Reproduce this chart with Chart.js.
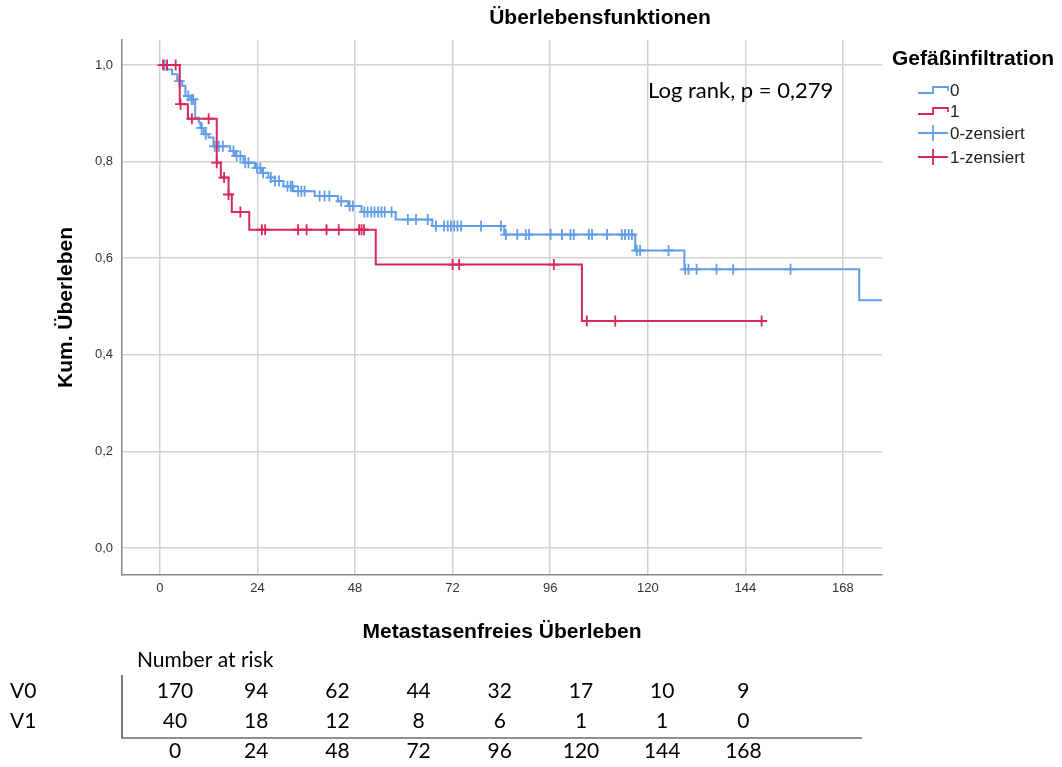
<!DOCTYPE html>
<html>
<head>
<meta charset="utf-8">
<script src="https://cdn.jsdelivr.net/npm/chart.js@4.4.1/dist/chart.umd.min.js"></script>
<style>
  body { margin: 0; background: #fff; }
  canvas { display: block; }
</style>
</head>
<body>
<canvas id="km" width="1062" height="767"></canvas>
<script>
// step points of each Kaplan-Meier curve (month of event, survival after it)
var blueTimes = [0, 1.8, 3.0, 4.3, 5.5, 6.3, 7.5, 8.7, 9.6, 10.0, 10.8, 12.0, 13.2, 17.3, 18.5, 20.6, 23.4, 25.1, 26.7, 28.3, 30.4, 32.8, 38.1, 43.8, 46.3, 49.6, 58.0, 67.0, 84.7, 116.9, 129.0, 172.0, 177.6];
var blueSurv = [1, 0.991, 0.981, 0.967, 0.957, 0.936, 0.929, 0.891, 0.881, 0.870, 0.857, 0.850, 0.832, 0.822, 0.812, 0.798, 0.787, 0.777, 0.767, 0.760, 0.749, 0.739, 0.729, 0.718, 0.708, 0.696, 0.680, 0.667, 0.649, 0.616, 0.577, 0.513, 0.513];
var redTimes = [0, 4.9, 6.9, 14.0, 15.0, 16.9, 17.7, 22.0, 53.1, 103.8, 148];
var redSurv = [1, 0.919, 0.889, 0.798, 0.767, 0.732, 0.696, 0.659, 0.587, 0.470, 0.470];

// censored cases (months)
var blueCensored = [1.2, 4.8, 7.0, 7.8, 8.2, 10.3, 11.3, 13.5, 14.5, 15.5, 18.1, 18.9, 19.8, 21.0, 21.8, 23.9, 24.7, 25.4, 27.3, 28.3, 29.3, 31.4, 32.2, 32.6, 34.0, 34.8, 35.6, 39.3, 40.5, 41.7, 44.6, 46.7, 47.5, 50.3, 51.1, 52.0, 52.8, 53.7, 54.5, 55.3, 57.0, 61.0, 63.0, 65.9, 67.9, 69.9, 70.8, 71.6, 72.4, 73.2, 74.1, 79.0, 83.9, 85.1, 87.9, 90.0, 90.8, 96.1, 98.9, 101.0, 101.8, 105.5, 106.3, 110.0, 113.6, 114.4, 115.3, 116.1, 117.3, 118.1, 125.1, 129.2, 130.0, 132.0, 136.9, 141.0, 155.1];
var redCensored = [0.8, 1.8, 3.9, 5.1, 7.9, 12.0, 14.0, 15.8, 16.9, 19.8, 25.1, 25.9, 34.0, 36.1, 41.0, 44.0, 49.0, 49.6, 50.2, 72.0, 73.6, 96.9, 105.0, 112.0, 148];

var xTicks = [0, 24, 48, 72, 96, 120, 144, 168];
var yTicks = [0, 0.2, 0.4, 0.6, 0.8, 1.0];

// number at risk table
var riskTimes = [0, 24, 48, 72, 96, 120, 144, 168];
var riskV0 = [170, 94, 62, 44, 32, 17, 10, 9];
var riskV1 = [40, 18, 12, 8, 6, 1, 1, 0];

var blueColor = '#629de8';
var redColor = '#d8285a';

function survAt(times, surv, t) {
  var s = surv[0];
  for (var i = 0; i < times.length; i++) {
    if (times[i] <= t) s = surv[i];
  }
  return s;
}

function steps(times, surv) {
  return times.map(function(t, i) { return {x: t, y: surv[i]}; });
}

function marks(cens, times, surv) {
  return cens.map(function(t) { return {x: t, y: survAt(times, surv, t)}; });
}

var textPlugin = {
  id: 'texts',
  afterDraw: function(chart) {
    var ctx = chart.ctx;
    var area = chart.chartArea;
    ctx.save();
    ctx.fillStyle = '#000';
    ctx.textBaseline = 'middle';

    // title
    ctx.font = 'bold 21px "Liberation Sans", Arial, sans-serif';
    ctx.textAlign = 'center';
    ctx.fillText('Überlebensfunktionen', 600, 18);

    // axis titles
    ctx.fillText('Metastasenfreies Überleben', (area.left + area.right) / 2, 632);
    ctx.save();
    ctx.translate(66, (area.top + area.bottom) / 2);
    ctx.rotate(-Math.PI / 2);
    ctx.fillText('Kum. Überleben', 0, 0);
    ctx.restore();

    // log rank
    ctx.font = '22px Lato, "Open Sans", sans-serif';
    ctx.textAlign = 'left';
    ctx.fillText('Log rank, p = 0,279', 648, 91);

    // legend
    ctx.font = 'bold 21px "Liberation Sans", Arial, sans-serif';
    ctx.fillText('Gefäßinfiltration', 892, 59);
    ctx.font = '17px "Liberation Sans", Arial, sans-serif';
    ctx.fillStyle = '#222';
    var items = [
      {label: '0', color: blueColor, y: 91, kind: 'step'},
      {label: '1', color: redColor, y: 112, kind: 'step'},
      {label: '0-zensiert', color: blueColor, y: 134, kind: 'cross'},
      {label: '1-zensiert', color: redColor, y: 158, kind: 'cross'}
    ];
    items.forEach(function(it) {
      ctx.strokeStyle = it.color;
      ctx.lineWidth = 1.8;
      ctx.beginPath();
      if (it.kind === 'step') {
        ctx.moveTo(918, it.y + 2);
        ctx.lineTo(933, it.y + 2);
        ctx.lineTo(933, it.y - 4);
        ctx.lineTo(948, it.y - 4);
        ctx.lineTo(948, it.y);
      } else {
        ctx.moveTo(918, it.y - 1);
        ctx.lineTo(948, it.y - 1);
        ctx.moveTo(933, it.y - 9);
        ctx.lineTo(933, it.y + 7);
      }
      ctx.stroke();
      ctx.fillText(it.label, 950, it.y);
    });

    // number at risk
    ctx.fillStyle = '#000';
    ctx.font = '21px Lato, "Open Sans", sans-serif';
    ctx.textAlign = 'left';
    ctx.fillText('Number at risk', 137, 660);
    ctx.fillText('V0', 10, 691);
    ctx.fillText('V1', 10, 721);
    ctx.textAlign = 'center';
    riskTimes.forEach(function(t, i) {
      var cx = 175 + i * 81.2;
      ctx.fillText(String(riskV0[i]), cx, 691);
      ctx.fillText(String(riskV1[i]), cx, 721);
      ctx.fillText(String(t), cx, 751);
    });
    ctx.strokeStyle = '#222';
    ctx.lineWidth = 1.2;
    ctx.beginPath();
    ctx.moveTo(122, 675);
    ctx.lineTo(122, 738);
    ctx.lineTo(862, 738);
    ctx.stroke();
    ctx.restore();
  }
};

var ctx = document.getElementById('km');
var chart = new Chart(ctx, {
  type: 'line',
  data: {
    datasets: [
      {
        label: '1',
        data: steps(redTimes, redSurv),
        borderColor: redColor,
        borderWidth: 2,
        stepped: true,
        pointRadius: 0,
        fill: false,
        order: 1
      },
      {
        label: '1-zensiert',
        data: marks(redCensored, redTimes, redSurv),
        borderColor: redColor,
        backgroundColor: redColor,
        showLine: false,
        pointStyle: 'cross',
        pointRadius: 5.5,
        pointBorderWidth: 1.8,
        order: 0
      },
      {
        label: '0',
        data: steps(blueTimes, blueSurv),
        borderColor: blueColor,
        borderWidth: 2,
        stepped: true,
        pointRadius: 0,
        fill: false,
        order: 3
      },
      {
        label: '0-zensiert',
        data: marks(blueCensored, blueTimes, blueSurv),
        borderColor: blueColor,
        backgroundColor: blueColor,
        showLine: false,
        pointStyle: 'cross',
        pointRadius: 5.5,
        pointBorderWidth: 1.8,
        order: 2
      }
    ]
  },
  options: {
    responsive: false,
    animation: false,
    layout: { padding: { top: 40, right: 180, bottom: 162, left: 0 } },
    plugins: {
      legend: { display: false },
      title: { display: false },
      tooltip: { enabled: false }
    },
    scales: {
      x: {
        type: 'linear',
        min: -9.3,
        max: 177.6,
        afterBuildTicks: function(scale) {
          scale.ticks = xTicks.map(function(v) { return {value: v}; });
        },
        afterFit: function(scale) { scale.height = 30; },
        grid: { color: '#d2d2d2', lineWidth: 1.5, drawTicks: false },
        border: { display: true, color: '#8a8a8a', width: 1.5 },
        ticks: {
          padding: 6,
          color: '#333',
          font: { family: '"Liberation Sans", Arial, sans-serif', size: 13 }
        }
      },
      y: {
        min: -0.056,
        max: 1.052,
        afterBuildTicks: function(scale) {
          scale.ticks = yTicks.map(function(v) { return {value: v}; });
        },
        afterFit: function(scale) { scale.width = 122; },
        grid: { color: '#d2d2d2', lineWidth: 1.5, drawTicks: false },
        border: { display: true, color: '#8a8a8a', width: 1.5 },
        ticks: {
          padding: 9,
          color: '#333',
          font: { family: '"Liberation Sans", Arial, sans-serif', size: 13 },
          callback: function(v) { return v.toFixed(1).replace('.', ','); }
        }
      }
    }
  },
  plugins: [textPlugin]
});
</script>
</body>
</html>
